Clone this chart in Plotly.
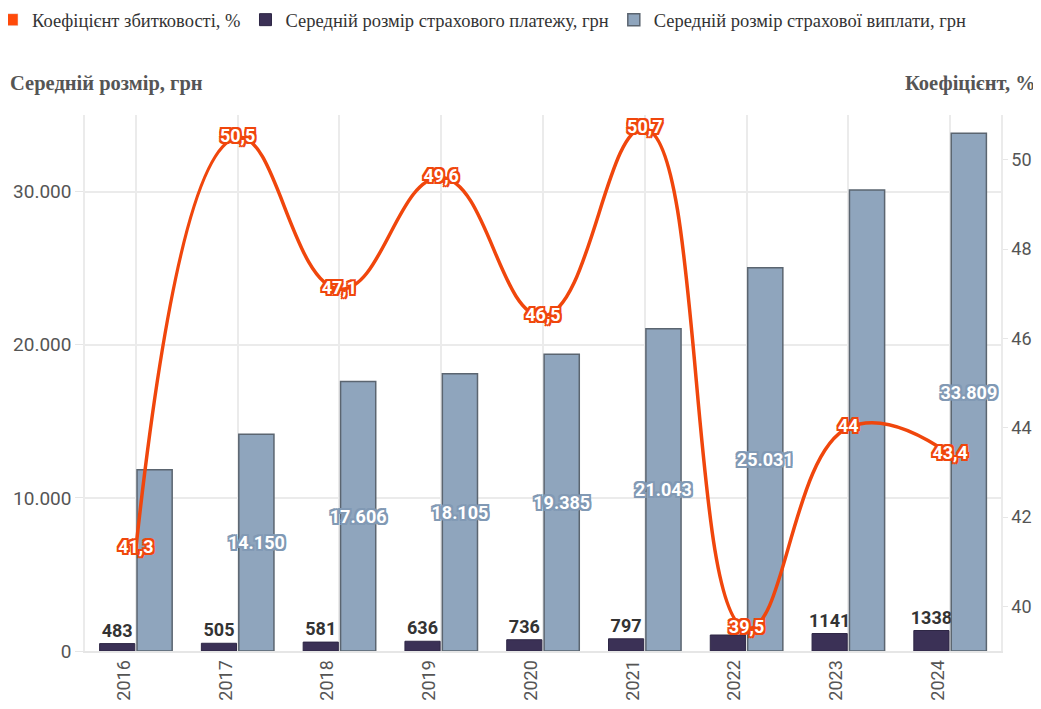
import plotly.graph_objects as go

years = ["2016", "2017", "2018", "2019", "2020", "2021", "2022", "2023", "2024"]
loss_ratio = [41.3, 50.5, 47.1, 49.6, 46.5, 50.7, 39.5, 44, 43.4]
avg_premium = [483, 505, 581, 636, 736, 797, 1045, 1141, 1338]
avg_payout = [11830, 14150, 17606, 18105, 19385, 21043, 25031, 30110, 33809]
# labels that are not shown in the reference (hidden by overlap)
hide_premium = {"2022"}
hide_payout = {"2016", "2023"}

name_ratio = "Коефіцієнт збитковості, %"
name_prem = "Середній розмір страхового платежу, грн"
name_pay = "Середній розмір страхової виплати, грн"

ORANGE = "#f0460c"
DARK = "#3b3156"
GREY = "#8fa5bd"


def outline(c, w=2):
    pts = [(-w, -w), (w, -w), (-w, w), (w, w), (0, w), (0, -w), (w, 0), (-w, 0)]
    return ", ".join(f"{x}px {y}px 0 {c}" for x, y in pts)


ratio_text = [f"{v:g}".replace(".", ",") for v in loss_ratio]
prem_text = ["" if y in hide_premium else str(v) for y, v in zip(years, avg_premium)]
pay_text = ["" if y in hide_payout else f"{v:,}".replace(",", ".") for y, v in zip(years, avg_payout)]

fig = go.Figure()

# legend-only entry (square swatch) for the line series
fig.add_trace(go.Bar(x=[None], y=[None], name=name_ratio, marker_color="#ff4a0a",
                     legendrank=1, showlegend=True, hoverinfo="skip"))

fig.add_trace(go.Bar(
    x=years, y=avg_premium, name=name_prem, legendrank=2,
    marker=dict(color=DARK, line=dict(color="#2e2745", width=1)),
    text=prem_text, textposition="outside", cliponaxis=False, constraintext="none",
    textfont=dict(family="Roboto", size=18, color="#333333", weight="bold"),
    offsetgroup="a",
))
fig.add_trace(go.Bar(
    x=years, y=avg_payout, name=name_pay, legendrank=3,
    marker=dict(color=GREY, line=dict(color="#5b6570", width=1.5)),
    text=pay_text, textposition="inside", insidetextanchor="middle",
    textangle=0, constraintext="none",
    insidetextfont=dict(family="Roboto", size=18, color="white", weight="bold",
                        shadow=outline("#8199b4")),
    offsetgroup="b",
))

fig.add_trace(go.Scatter(
    x=years, y=loss_ratio, name=name_ratio, yaxis="y2", showlegend=False,
    mode="lines+text", line=dict(color=ORANGE, width=3.5, shape="spline", smoothing=1.3),
    text=ratio_text, textposition="middle center", cliponaxis=False,
    textfont=dict(family="Roboto", size=18, color="white", weight="bold",
                  shadow=outline(ORANGE)),
))

# vertical grid extensions below the axis
shapes = [dict(type="line", xref="x", yref="paper", x0=y, x1=y, y0=0, y1=-0.1,
               line=dict(color="#ebebeb", width=1.5), layer="below") for y in years]

fig.update_layout(
    width=1033, height=701,
    margin=dict(l=77, r=40, t=107, b=58, autoexpand=False),
    paper_bgcolor="white", plot_bgcolor="white",
    separators=",.",
    barmode="group", bargap=0.265, bargroupgap=0.06,
    showlegend=True,
    legend=dict(orientation="h", x=-0.1015, y=1.177, xanchor="left", yanchor="middle",
                font=dict(family="Liberation Serif", size=18.5, color="#333333"),
                itemwidth=30, traceorder="normal"),
    xaxis=dict(type="category", range=[-0.5, 8.5], showgrid=True, gridcolor="#ebebeb",
               gridwidth=1.5, tickangle=-90, ticklabelshift=-12,
               tickfont=dict(family="Roboto", size=18, color="#555555"),
               showline=True, linecolor="#e6e6e6", linewidth=2, ticks=""),
    yaxis=dict(range=[0, 35000], tickvals=[0, 10000, 20000, 30000], tickformat=",",
               showgrid=True, gridcolor="#ebebeb", gridwidth=1.5, zeroline=False,
               showline=True, linecolor="#ebebeb", linewidth=1.5,
               ticks="outside", ticklen=8, tickcolor="#e6e6e6",
               tickfont=dict(family="Roboto", size=19, color="#555555")),
    yaxis2=dict(range=[39, 51], dtick=2, overlaying="y", side="right", showgrid=False,
                zeroline=False, showline=True, linecolor="#ebebeb", linewidth=1.5,
                ticks="outside", ticklen=5, tickcolor="#e6e6e6", ticklabelstandoff=0,
                tickfont=dict(family="Roboto", size=18, color="#555555")),
    shapes=shapes,
    annotations=[
        dict(text="<b>Середній розмір, грн</b>", xref="paper", yref="paper",
             x=-0.084, y=1.058, xanchor="left", yanchor="middle", showarrow=False,
             font=dict(family="Liberation Serif", size=20.5, color="#555555")),
        dict(text="<b>Коефіцієнт, %</b>", xref="paper", yref="paper",
             x=1.04, y=1.058, xanchor="right", yanchor="middle", showarrow=False,
             font=dict(family="Liberation Serif", size=20.5, color="#555555")),
    ],
)

fig.write_html("out.html")
